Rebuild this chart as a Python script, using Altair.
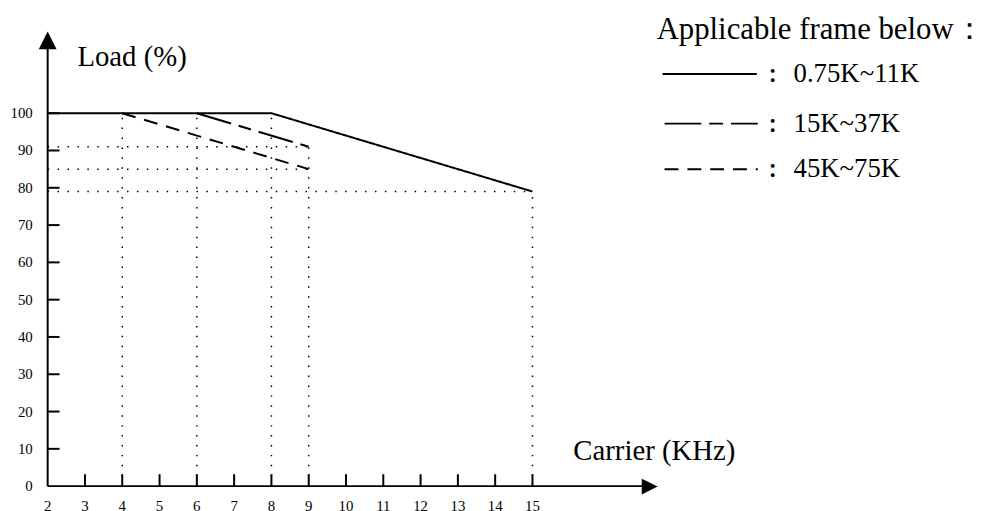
import altair as alt
import pandas as pd

# ---------------- data ----------------
series_names = ["0.75K~11K", "15K~37K", "45K~75K"]
solid_carrier = [2, 8, 15]
solid_load = [100, 100, 79]
mid_carrier = [6, 9]
mid_load = [100, 91]
short_carrier = [4, 9]
short_load = [100, 85]

x_tick_values = [2, 3, 4, 5, 6, 7, 8, 9, 10, 11, 12, 13, 14, 15]
y_tick_values = [0, 10, 20, 30, 40, 50, 60, 70, 80, 90, 100]

guide_h_load = [91, 85, 79]
guide_h_end = [9, 9, 15]
guide_v_carrier = [4, 6, 8, 9, 15]
guide_v_top = [100, 100, 100, 91, 79]

x_title = "Carrier (KHz)"
y_title = "Load (%)"
legend_title = "Applicable frame below："

# ---------------- layout ----------------
FONT = "Liberation Serif"
X_DOM = [2, 26.5]
Y_DOM = [0, 125]
PXX = 37.6   # px per carrier unit
PXY = 3.76   # px per load unit
W = (X_DOM[1] - X_DOM[0]) * PXX
H = (Y_DOM[1] - Y_DOM[0]) * PXY
PAD_L, PAD_T = 40, 10
PAD_R = 976 - PAD_L - W
PAD_B = 503 - PAD_T - H


def px(page_x):
    return page_x - 8 - PAD_L


def py(page_y):
    return page_y - 8 - PAD_T


xs = alt.Scale(domain=X_DOM, nice=False, zero=False)
ys = alt.Scale(domain=Y_DOM, nice=False, zero=False)

# ---------------- tables ----------------
lines_df = pd.DataFrame({
    "series": [series_names[0]] * len(solid_carrier)
    + [series_names[1]] * len(mid_carrier)
    + [series_names[2]] * len(short_carrier),
    "carrier": solid_carrier + mid_carrier + short_carrier,
    "load": solid_load + mid_load + short_load,
})

gh_df = pd.DataFrame({"load": guide_h_load, "x0": [x_tick_values[0]] * len(guide_h_load), "x1": guide_h_end})
gv_df = pd.DataFrame({"carrier": guide_v_carrier, "y0": [0] * len(guide_v_carrier), "y1": guide_v_top})

yt_df = pd.DataFrame({"v": y_tick_values, "lab": [str(v) for v in y_tick_values]})
xt_df = pd.DataFrame({"v": x_tick_values, "lab": [str(v) for v in x_tick_values]})

DOT = [1.5, 8.5]

guides_h = alt.Chart(gh_df).mark_rule(color="black", strokeWidth=1.5, strokeDash=DOT).encode(
    x=alt.X("x0:Q", scale=xs, axis=None), x2="x1:Q",
    y=alt.Y("load:Q", scale=ys, axis=None))
guides_v = alt.Chart(gv_df).mark_rule(color="black", strokeWidth=1.5, strokeDash=DOT).encode(
    x=alt.X("carrier:Q", scale=xs, axis=None),
    y=alt.Y("y0:Q", scale=ys, axis=None), y2="y1:Q")

# axes
axis_y = alt.Chart(pd.DataFrame({"a": [0]})).transform_calculate(a=str(X_DOM[0])).mark_rule(
    color="black", strokeWidth=2).encode(
    x=alt.X("a:Q", scale=xs, axis=None), y=alt.value(py(488)), y2=alt.value(py(45)))
axis_x = alt.Chart(pd.DataFrame({"a": [0]})).mark_rule(color="black", strokeWidth=2).encode(
    y=alt.Y("a:Q", scale=ys, axis=None), x=alt.value(px(48)), x2=alt.value(px(650)))

ytick_marks = alt.Chart(yt_df[yt_df.v > 0]).transform_calculate(
    x0=str(X_DOM[0]), x1=str(X_DOM[0] + 12 / PXX)).mark_rule(color="black", strokeWidth=2).encode(
    x=alt.X("x0:Q", scale=xs, axis=None), x2="x1:Q", y=alt.Y("v:Q", scale=ys, axis=None))
xtick_marks = alt.Chart(xt_df[xt_df.v > X_DOM[0]]).transform_calculate(
    y0="0", y1=str(12 / PXY)).mark_rule(color="black", strokeWidth=2).encode(
    x=alt.X("v:Q", scale=xs, axis=None), y=alt.Y("y0:Q", scale=ys, axis=None), y2="y1:Q")

ytick_labels = alt.Chart(yt_df).mark_text(font=FONT, fontSize=15, align="right", baseline="middle",
                                          color="black").encode(
    x=alt.value(px(33)), y=alt.Y("v:Q", scale=ys, axis=None), text="lab:N")
xtick_labels = alt.Chart(xt_df).mark_text(font=FONT, fontSize=15, align="center", baseline="top",
                                          color="black").encode(
    x=alt.X("v:Q", scale=xs, axis=None), y=alt.value(py(501)), text="lab:N")

arrow_up = alt.Chart(pd.DataFrame({"a": [0]})).mark_point(
    shape="M0,-1L1,1L-1,1Z", size=324, filled=True, color="black", opacity=1).encode(
    x=alt.value(px(48)), y=alt.value(py(38.5)))
arrow_right = alt.Chart(pd.DataFrame({"a": [0]})).mark_point(
    shape="M1,0L-1,-1L-1,1Z", size=256, filled=True, color="black", opacity=1).encode(
    x=alt.value(px(655)), y=alt.value(py(488.5)))

# series lines
lines = alt.Chart(lines_df).mark_line(color="black", strokeWidth=2).encode(
    x=alt.X("carrier:Q", scale=xs, axis=None),
    y=alt.Y("load:Q", scale=ys, axis=None),
    strokeDash=alt.StrokeDash("series:N", scale=alt.Scale(
        domain=series_names, range=[[1, 0], [36, 8, 13, 8], [14, 9]]), legend=None),
    detail="series:N",
    order="carrier:Q")

# axis titles
title_df = pd.DataFrame({"t": [y_title, x_title], "x": [px(78), px(578)], "y": [py(64), py(462)]})
titles = alt.Chart(title_df).mark_text(font=FONT, fontSize=29, align="left", baseline="alphabetic",
                                       color="black").encode(
    x=alt.X("x:Q", scale=None), y=alt.Y("y:Q", scale=None), text="t:N")

# legend
leg_title = alt.Chart(pd.DataFrame({"t": [legend_title]})).mark_text(
    font=FONT, fontSize=31, align="left", baseline="alphabetic", color="black").encode(
    x=alt.value(px(662)), y=alt.value(py(37)), text="t:N")

row_y = [py(72.5), py(122.5), py(168.5)]
row_start = [px(668), px(670), px(670)]
row_end = [px(763), px(764), px(764)]
leg_df = pd.DataFrame({"series": series_names, "y": row_y,
                       "x0": row_start, "x1": row_end,
                       "cx": [px(779)] * 3, "cy": [v + 3 for v in row_y],
                       "lx": [px(800)] * 3, "colon": ["："] * 3})
leg_lines = alt.Chart(leg_df).mark_rule(color="black", strokeWidth=2).encode(
    x=alt.X("x0:Q", scale=None), x2="x1:Q", y=alt.Y("y:Q", scale=None),
    strokeDash=alt.StrokeDash("series:N", scale=alt.Scale(
        domain=series_names, range=[[1, 0], [37, 8, 14, 8], [14, 9]]), legend=None))
leg_colon = alt.Chart(leg_df).mark_text(font="Noto Sans CJK TC", fontSize=20, fontWeight="bold",
                                        align="center", baseline="middle", color="black").encode(
    x=alt.X("cx:Q", scale=None), y=alt.Y("cy:Q", scale=None), text="colon:N")
leg_text = alt.Chart(leg_df).mark_text(font=FONT, fontSize=27, align="left", baseline="middle",
                                       color="black").encode(
    x=alt.X("lx:Q", scale=None), y=alt.Y("y:Q", scale=None), text="series:N")

chart = alt.layer(
    guides_h, guides_v, axis_y, axis_x, ytick_marks, xtick_marks, ytick_labels, xtick_labels,
    lines, arrow_up, arrow_right, titles, leg_title, leg_lines, leg_colon, leg_text
).resolve_scale(strokeDash="independent").properties(
    width=W, height=H,
    autosize=alt.AutoSizeParams(type="none"),
    padding={"left": PAD_L, "top": PAD_T, "right": PAD_R, "bottom": PAD_B},
    background="white",
).configure_view(stroke=None)

chart.save("out.html", embed_options={"renderer": "svg", "actions": False})
